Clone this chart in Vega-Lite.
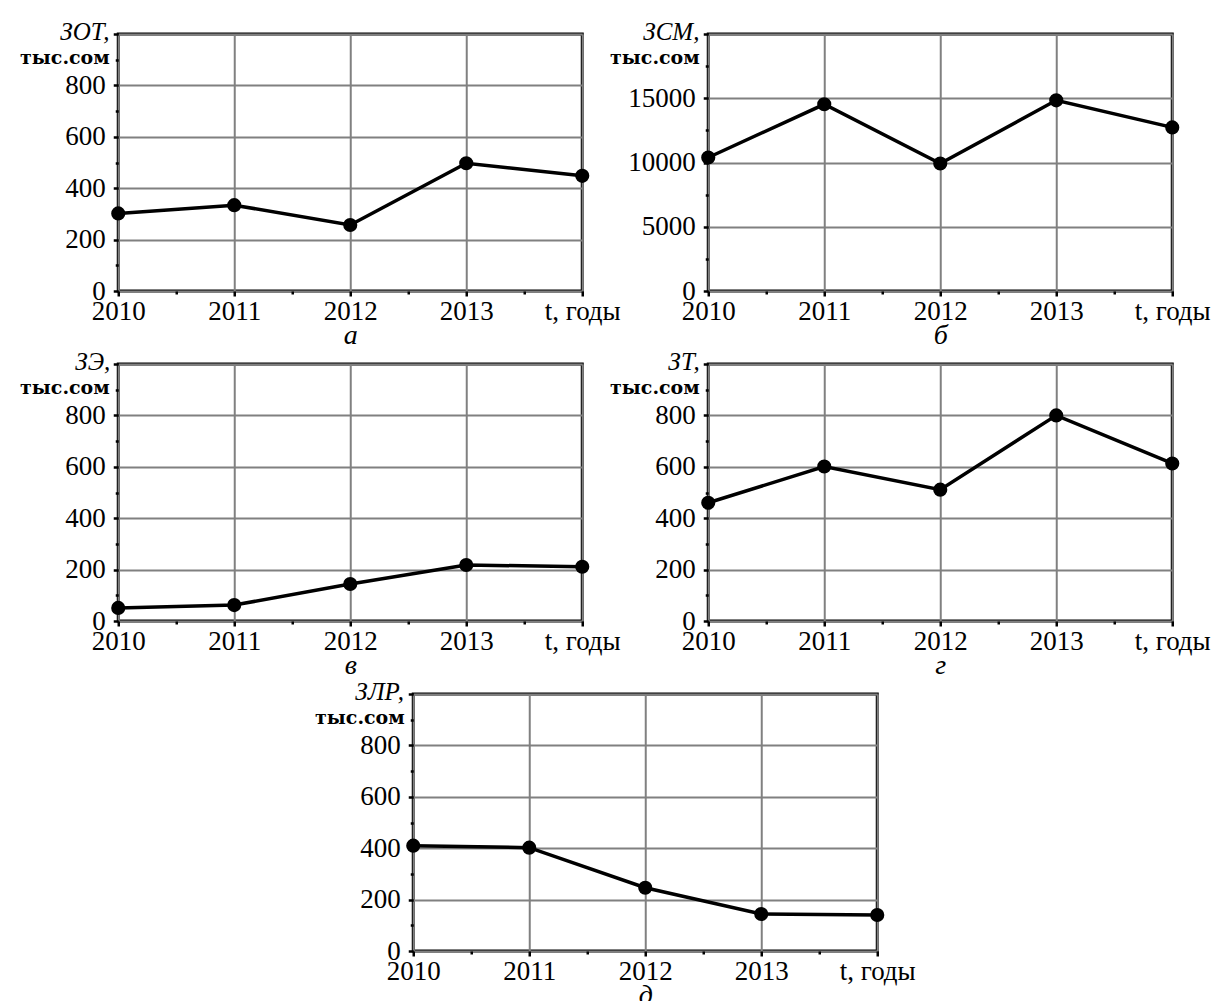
{
  "$schema": "https://vega.github.io/schema/vega-lite/v6.json",
  "background": "white",
  "padding": {"left": 18, "top": 18, "right": 0, "bottom": 0},
  "bounds": "full",
  "spacing": -3,
  "center": true,
  "datasets": {
    "a": [{"year": 2010, "value": 302}, {"year": 2011, "value": 334}, {"year": 2012, "value": 257}, {"year": 2013, "value": 497}, {"year": 2014, "value": 448}],
    "b": [{"year": 2010, "value": 10390}, {"year": 2011, "value": 14530}, {"year": 2012, "value": 9920}, {"year": 2013, "value": 14840}, {"year": 2014, "value": 12730}],
    "v": [{"year": 2010, "value": 51}, {"year": 2011, "value": 62}, {"year": 2012, "value": 144}, {"year": 2013, "value": 218}, {"year": 2014, "value": 211}],
    "g": [{"year": 2010, "value": 460}, {"year": 2011, "value": 601}, {"year": 2012, "value": 511}, {"year": 2013, "value": 800}, {"year": 2014, "value": 613}],
    "d": [{"year": 2010, "value": 410}, {"year": 2011, "value": 402}, {"year": 2012, "value": 246}, {"year": 2013, "value": 144}, {"year": 2014, "value": 140}]
  },
  "vconcat": [
    {
      "bounds": "flush",
      "spacing": 126,
      "hconcat": [
        {
          "width": 464, "height": 257,
          "title": {"text": "ЗОТ,", "dx": -58},
          "data": {"name": "a"},
          "resolve": {"axis": {"x": "independent", "y": "independent"}},
          "layer": [
            {"mark": {"type": "line", "color": "black", "strokeWidth": 3.5},
             "encoding": {
               "x": {"field": "year", "type": "quantitative", "scale": {"domain": [2010, 2014], "nice": false, "zero": false}, "axis": {"orient": "bottom", "title": "а", "values": [2010, 2011, 2012, 2013, 2014], "grid": true}},
               "y": {"field": "value", "type": "quantitative", "scale": {"domain": [0, 1000], "nice": false}, "axis": {"orient": "left", "values": [0, 200, 400, 600, 800, 1000], "title": "тыс.сом", "grid": true}}
             }},
            {"mark": {"type": "point", "filled": true, "color": "black", "size": 200, "opacity": 1},
             "encoding": {
               "x": {"field": "year", "type": "quantitative", "axis": {"orient": "bottom", "values": [2010.5, 2011.5, 2012.5, 2013.5], "labels": false, "grid": false, "tickSize": 3, "title": null}},
               "y": {"field": "value", "type": "quantitative", "axis": {"orient": "left", "values": [100, 300, 500, 700, 900], "labels": false, "grid": false, "tickSize": 3, "title": null}}
             }}
          ]
        },
        {
          "width": 464, "height": 257,
          "title": {"text": "ЗСМ,", "dx": -65},
          "data": {"name": "b"},
          "resolve": {"axis": {"x": "independent", "y": "independent"}},
          "layer": [
            {"mark": {"type": "line", "color": "black", "strokeWidth": 3.5},
             "encoding": {
               "x": {"field": "year", "type": "quantitative", "scale": {"domain": [2010, 2014], "nice": false, "zero": false}, "axis": {"orient": "bottom", "title": "б", "values": [2010, 2011, 2012, 2013, 2014], "grid": true}},
               "y": {"field": "value", "type": "quantitative", "scale": {"domain": [0, 20000], "nice": false}, "axis": {"orient": "left", "values": [0, 5000, 10000, 15000, 20000], "title": "тыс.сом", "grid": true, "labelExpr": "datum.value >= 20000 ? '' : format(datum.value, 'd')"}}
             }},
            {"mark": {"type": "point", "filled": true, "color": "black", "size": 200, "opacity": 1},
             "encoding": {
               "x": {"field": "year", "type": "quantitative", "axis": {"orient": "bottom", "values": [2010.5, 2011.5, 2012.5, 2013.5], "labels": false, "grid": false, "tickSize": 3, "title": null}},
               "y": {"field": "value", "type": "quantitative", "axis": {"orient": "left", "values": [2500, 7500, 12500, 17500], "labels": false, "grid": false, "tickSize": 3, "title": null}}
             }}
          ]
        }
      ]
    },
    {
      "bounds": "flush",
      "spacing": 126,
      "hconcat": [
        {
          "width": 464, "height": 257,
          "title": {"text": "ЗЭ,", "dx": -43},
          "data": {"name": "v"},
          "resolve": {"axis": {"x": "independent", "y": "independent"}},
          "layer": [
            {"mark": {"type": "line", "color": "black", "strokeWidth": 3.5},
             "encoding": {
               "x": {"field": "year", "type": "quantitative", "scale": {"domain": [2010, 2014], "nice": false, "zero": false}, "axis": {"orient": "bottom", "title": "в", "values": [2010, 2011, 2012, 2013, 2014], "grid": true}},
               "y": {"field": "value", "type": "quantitative", "scale": {"domain": [0, 1000], "nice": false}, "axis": {"orient": "left", "values": [0, 200, 400, 600, 800, 1000], "title": "тыс.сом", "grid": true}}
             }},
            {"mark": {"type": "point", "filled": true, "color": "black", "size": 200, "opacity": 1},
             "encoding": {
               "x": {"field": "year", "type": "quantitative", "axis": {"orient": "bottom", "values": [2010.5, 2011.5, 2012.5, 2013.5], "labels": false, "grid": false, "tickSize": 3, "title": null}},
               "y": {"field": "value", "type": "quantitative", "axis": {"orient": "left", "values": [100, 300, 500, 700, 900], "labels": false, "grid": false, "tickSize": 3, "title": null}}
             }}
          ]
        },
        {
          "width": 464, "height": 257,
          "title": {"text": "ЗТ,", "dx": -40},
          "data": {"name": "g"},
          "resolve": {"axis": {"x": "independent", "y": "independent"}},
          "layer": [
            {"mark": {"type": "line", "color": "black", "strokeWidth": 3.5},
             "encoding": {
               "x": {"field": "year", "type": "quantitative", "scale": {"domain": [2010, 2014], "nice": false, "zero": false}, "axis": {"orient": "bottom", "title": "г", "values": [2010, 2011, 2012, 2013, 2014], "grid": true}},
               "y": {"field": "value", "type": "quantitative", "scale": {"domain": [0, 1000], "nice": false}, "axis": {"orient": "left", "values": [0, 200, 400, 600, 800, 1000], "title": "тыс.сом", "grid": true}}
             }},
            {"mark": {"type": "point", "filled": true, "color": "black", "size": 200, "opacity": 1},
             "encoding": {
               "x": {"field": "year", "type": "quantitative", "axis": {"orient": "bottom", "values": [2010.5, 2011.5, 2012.5, 2013.5], "labels": false, "grid": false, "tickSize": 3, "title": null}},
               "y": {"field": "value", "type": "quantitative", "axis": {"orient": "left", "values": [100, 300, 500, 700, 900], "labels": false, "grid": false, "tickSize": 3, "title": null}}
             }}
          ]
        }
      ]
    },
    {
      "width": 464, "height": 257,
      "title": {"text": "ЗЛР,", "dx": -58},
      "data": {"name": "d"},
      "resolve": {"axis": {"x": "independent", "y": "independent"}},
      "layer": [
        {"mark": {"type": "line", "color": "black", "strokeWidth": 3.5},
         "encoding": {
           "x": {"field": "year", "type": "quantitative", "scale": {"domain": [2010, 2014], "nice": false, "zero": false}, "axis": {"orient": "bottom", "title": "д", "values": [2010, 2011, 2012, 2013, 2014], "grid": true}},
           "y": {"field": "value", "type": "quantitative", "scale": {"domain": [0, 1000], "nice": false}, "axis": {"orient": "left", "values": [0, 200, 400, 600, 800, 1000], "title": "тыс.сом", "grid": true}}
         }},
        {"mark": {"type": "point", "filled": true, "color": "black", "size": 200, "opacity": 1},
         "encoding": {
           "x": {"field": "year", "type": "quantitative", "axis": {"orient": "bottom", "values": [2010.5, 2011.5, 2012.5, 2013.5], "labels": false, "grid": false, "tickSize": 3, "title": null}},
           "y": {"field": "value", "type": "quantitative", "axis": {"orient": "left", "values": [100, 300, 500, 700, 900], "labels": false, "grid": false, "tickSize": 3, "title": null}}
         }}
      ]
    }
  ],
  "config": {
    "font": "Liberation Serif",
    "view": {"stroke": "black", "strokeWidth": 3},
    "title": {
      "anchor": "start", "align": "left", "orient": "top", "frame": "group",
      "baseline": "alphabetic", "offset": -25,
      "fontSize": 25, "fontStyle": "italic", "fontWeight": "normal", "color": "black", "font": "Liberation Serif"
    },
    "axis": {
      "domain": false,
      "gridColor": "#808080", "gridWidth": 2, "gridOpacity": 1,
      "ticks": true, "tickColor": "black", "tickWidth": 2.5, "tickSize": 5,
      "labelFont": "Liberation Serif", "labelFontSize": 27, "labelColor": "black", "labelPadding": 2,
      "labelOverlap": false, "labelBound": false, "labelFlush": false,
      "titleFont": "Liberation Serif", "titleColor": "black"
    },
    "axisX": {
      "labelExpr": "datum.value == 2014 ? 't, годы' : format(datum.value, 'd')",
      "titleFontSize": 28, "titleFontStyle": "italic", "titleFontWeight": "normal",
      "titleBaseline": "alphabetic", "titleY": 52, "titleX": 232, "titleAlign": "center"
    },
    "axisY": {
      "labelExpr": "datum.value >= 1000 ? '' : datum.label",
      "labelPadding": 8,
      "titleAngle": 0, "titleAlign": "right", "titleBaseline": "alphabetic",
      "titleX": -9, "titleY": 29, "titleFontSize": 19, "titleFont": "DejaVu Serif", "titleFontWeight": "bold"
    }
  }
}
